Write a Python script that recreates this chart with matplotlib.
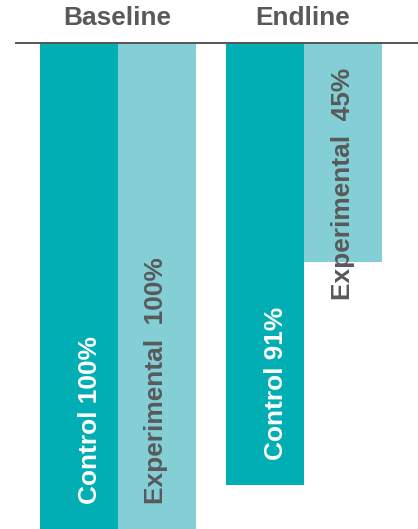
import matplotlib
matplotlib.use("Agg")
import matplotlib.pyplot as plt
import numpy as np

# data
periods = ["Baseline", "Endline"]
groups = ["Control", "Experimental"]
control = [100, 91]
experimental = [100, 45]
control_labels = ["Control 100%", "Control 91%"]
experimental_labels = ["Experimental  100%", "Experimental  45%"]

dark_teal = "#00AEB4"
light_teal = "#83CFD5"
gray = "#58595B"

plt.rcParams['font.family'] = ['Liberation Sans', 'DejaVu Sans']

W, H = 418, 529
fig = plt.figure(figsize=(W / 100, H / 100), dpi=100)
# axes: top line at 43 px from top, bars hang down to the bottom edge
ax = fig.add_axes([16 / W, 0, 1 - 16 / W, 486 / H])

x = np.arange(len(periods))
width = 78 / 186

ax.bar(x - width / 2, control, width, color=dark_teal, linewidth=0)
ax.bar(x + width / 2, experimental, width, color=light_teal, linewidth=0)

ax.set_xlim(-(118 - 16) / 186, (418 - 118) / 186)
ax.set_ylim(100, 0)

for s in ['left', 'right', 'bottom']:
    ax.spines[s].set_visible(False)
ax.spines['top'].set_color("#555555")
ax.spines['top'].set_linewidth(1.4)
ax.set_xticks([])
ax.set_yticks([])

fs = 18.9

# period headings
for i, p in enumerate(periods):
    ax.annotate(p, xy=(i, 1), xycoords=('data', 'axes fraction'),
                xytext=(-1, 25), textcoords='offset pixels',
                ha='center', va='center', fontsize=fs, fontweight='bold',
                color=gray)

# bar labels
for i in range(len(periods)):
    ax.annotate(control_labels[i], xy=(x[i] - width / 2, control[i]),
                xytext=(11, 25), textcoords='offset pixels',
                rotation=90, ha='center', va='bottom', fontsize=fs,
                fontweight='bold', color='white')
    if experimental[i] > 60:
        ax.annotate(experimental_labels[i], xy=(x[i] + width / 2, experimental[i]),
                    xytext=(-1, 25), textcoords='offset pixels',
                    rotation=90, ha='center', va='bottom', fontsize=fs,
                    fontweight='bold', color=gray)
    else:
        # label too long for the bar: hang it from the top instead
        ax.annotate(experimental_labels[i], xy=(x[i] + width / 2, 0),
                    xytext=(0, -25), textcoords='offset pixels',
                    rotation=90, ha='center', va='top', fontsize=fs,
                    fontweight='bold', color=gray)

fig.savefig("out.png", dpi=100)
